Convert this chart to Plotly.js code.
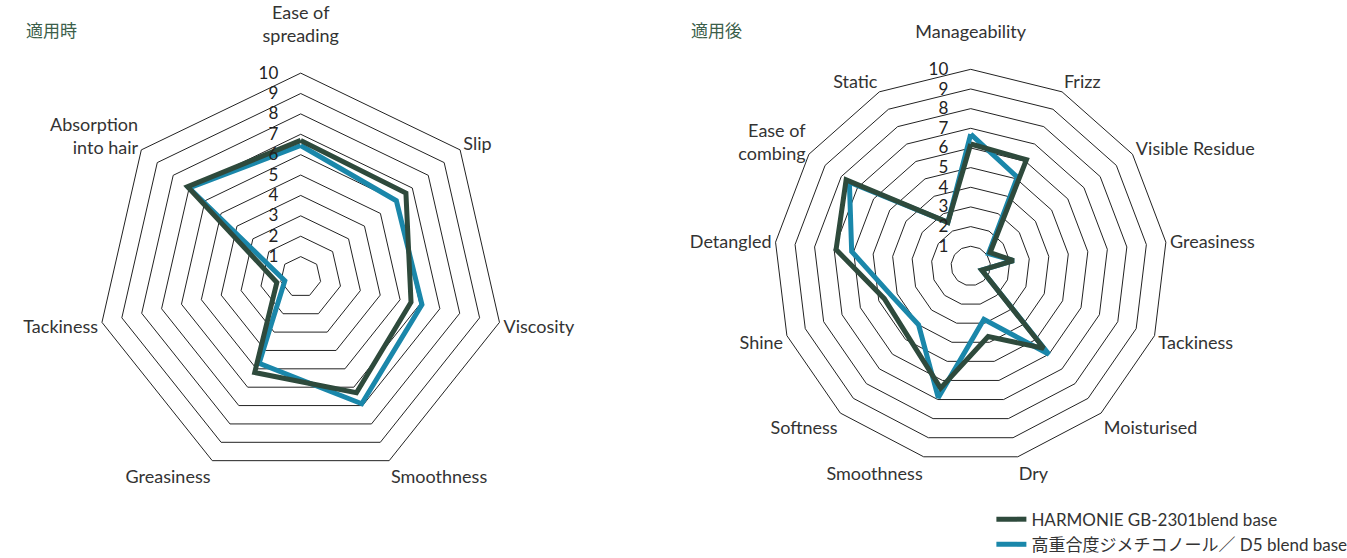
<!DOCTYPE html>
<html>
<head>
<meta charset="utf-8">
<script src="https://cdn.plot.ly/plotly-3.0.1.min.js"></script>
<style>
  body { margin: 0; background: #fff; }
  #chart { width: 1347px; height: 558px; }
</style>
</head>
<body>
<div id="chart"></div>
<script>
// left radar: at application
// (trailing blank line on the top label lifts it clear of the "10" tick)
var beforeLabels = ['Ease of<br>spreading<br> ', 'Slip', 'Viscosity', 'Smoothness', 'Greasiness', 'Tackiness', 'Absorption<br>into hair'];
var beforeHarmonie = [6.7, 6.6, 5.55, 6.3, 5.2, 1.2, 7.1];
var beforeD5 = [6.45, 6.0, 6.1, 6.9, 4.7, 0.8, 7.0];

// right radar: after application
var afterLabels = ['Manageability<br> ', 'Frizz', 'Visible Residue', 'Greasiness', 'Tackiness', 'Moisturised', 'Dry',
  'Smoothness', 'Softness', 'Shine', 'Detangled', 'Ease of<br>combing', 'Static'];
var afterHarmonie = [6.2, 6.1, 1.2, 2.2, 0.6, 5.6, 3.7, 6.4, 4.8, 4.7, 6.9, 7.7, 2.5];
var afterD5 = [6.7, 5.1, 1.1, 2.2, 0.6, 6.0, 2.8, 6.9, 4.0, 4.3, 6.1, 7.5, 2.5];

var scoreTicks = [1, 2, 3, 4, 5, 6, 7, 8, 9, 10];
var seriesNames = ['HARMONIE GB-2301blend base', '高重合度ジメチコノール／ D5 blend base'];
var darkColor = '#2e4a3c';
var blueColor = '#1a87aa';

function closeLoop(arr) {
  return arr.concat([arr[0]]);
}

function makeTrace(labels, values, name, color, subplot, showLegend) {
  return {
    type: 'scatterpolar',
    mode: 'lines',
    r: closeLoop(values),
    theta: closeLoop(labels),
    name: name,
    subplot: subplot,
    showlegend: showLegend,
    line: { color: color, width: 5 },
    hoverinfo: 'skip'
  };
}

// blue first so the dark line sits on top
var data = [
  makeTrace(beforeLabels, beforeD5, seriesNames[1], blueColor, 'polar', true),
  makeTrace(beforeLabels, beforeHarmonie, seriesNames[0], darkColor, 'polar', true),
  makeTrace(afterLabels, afterD5, seriesNames[1], blueColor, 'polar2', false),
  makeTrace(afterLabels, afterHarmonie, seriesNames[0], darkColor, 'polar2', false)
];

function polarLayout(xDom, yDom, labels) {
  return {
    domain: { x: xDom, y: yDom },
    gridshape: 'linear',
    bgcolor: 'rgba(0,0,0,0)',
    radialaxis: {
      range: [0, 10],
      tickvals: scoreTicks,
      angle: 90,
      side: 'counterclockwise',
      tickangle: 90,
      showline: false,
      ticks: 'outside',
      ticklen: 16,
      tickcolor: 'rgba(0,0,0,0)',
      gridcolor: '#222',
      gridwidth: 1,
      tickfont: { size: 17, color: '#222' }
    },
    angularaxis: {
      type: 'category',
      categoryarray: labels,
      rotation: 90,
      direction: 'clockwise',
      showgrid: false,
      showline: true,
      linecolor: '#222',
      linewidth: 1,
      ticks: '',
      tickfont: { size: 18, color: '#333' }
    }
  };
}

var layout = {
  width: 1347,
  height: 558,
  margin: { l: 0, r: 0, t: 0, b: 0, autoexpand: false },
  paper_bgcolor: '#fff',
  font: { family: 'Lato, "Noto Sans CJK JP", sans-serif', color: '#333' },
  polar: polarLayout([0.0719, 0.3746], [0.1369, 0.8703], beforeLabels),
  polar2: polarLayout([0.5747, 0.8666], [0.1711, 0.8758], afterLabels),
  legend: {
    x: 0.736, y: 0.101, xanchor: 'left', yanchor: 'top',
    traceorder: 'reversed',
    font: { size: 17, color: '#333' },
    tracegroupgap: 0,
    itemclick: false
  },
  annotations: [
    { text: '適用時', x: 24, y: 30 },
    { text: '適用後', x: 689, y: 30 }
  ].map(function (a) {
    return {
      text: a.text, showarrow: false,
      xref: 'paper', yref: 'paper',
      x: a.x / 1347, y: 1 - a.y / 558,
      xanchor: 'left', yanchor: 'middle',
      font: { family: '"Noto Sans CJK JP", sans-serif', size: 17, color: '#3b5e4a' }
    };
  })
};

Plotly.newPlot('chart', data, layout, { displayModeBar: false, staticPlot: true });
</script>
</body>
</html>
